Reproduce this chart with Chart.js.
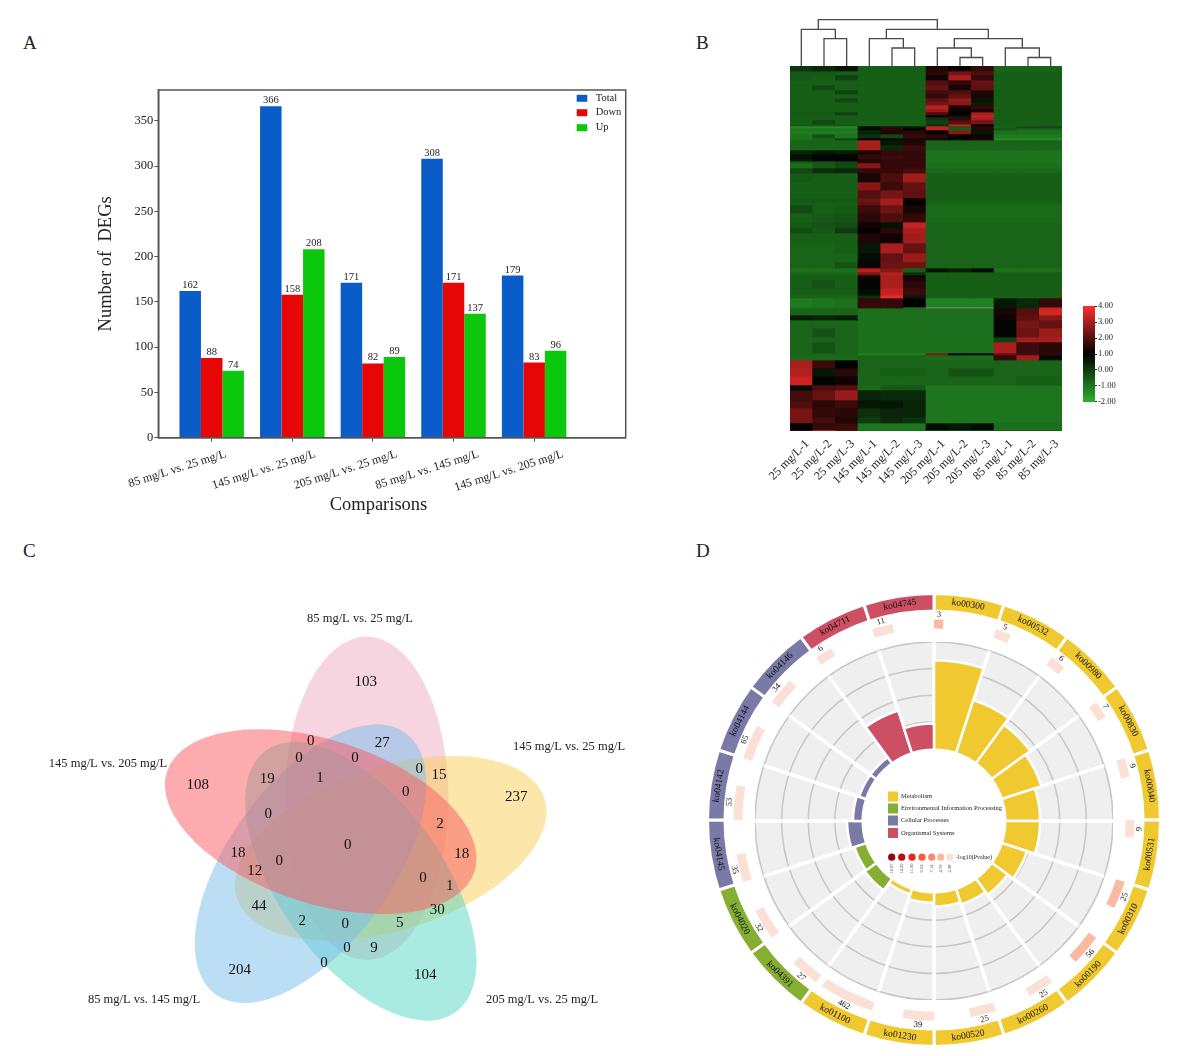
<!DOCTYPE html>
<html>
<head>
<meta charset="utf-8">
<style>
body { margin: 0; background: #fff; width: 1181px; height: 1056px; position: relative; overflow: hidden; font-family: "Liberation Serif", serif; }
canvas { position: absolute; }
.letter { position: absolute; font-size: 19px; color: #222; line-height: 1; }
</style>
</head>
<body>
<div class="letter" style="left:23px;top:33px">A</div>
<div class="letter" style="left:696px;top:33px">B</div>
<div class="letter" style="left:23px;top:541px">C</div>
<div class="letter" style="left:696px;top:541px">D</div>
<script src="https://cdn.jsdelivr.net/npm/chart.js@4"></script>
<script>
// panel A
const comparisons = ['85 mg/L vs. 25 mg/L', '145 mg/L vs. 25 mg/L', '205 mg/L vs. 25 mg/L', '85 mg/L vs. 145 mg/L', '145 mg/L vs. 205 mg/L']
const totalDegs = [162, 366, 171, 308, 179]
const downDegs = [88, 158, 82, 171, 83]
const upDegs = [74, 208, 89, 137, 96]
const barNames = ['Total', 'Down', 'Up']
const barColors = ['#0a5cc8', '#e60606', '#0cc80c']
const labelShift = [14, 23, 24, 25, 29]

// panel B
const samples = ['25 mg/L-1', '25 mg/L-2', '25 mg/L-3', '145 mg/L-1', '145 mg/L-2', '145 mg/L-3', '205 mg/L-1', '205 mg/L-2', '205 mg/L-3', '85 mg/L-1', '85 mg/L-2', '85 mg/L-3']
const heatSpans = [5,4,5,5,5,4,4,4,3,4,3,3,2,3,4,2,2,2,4,4,2,5,5,4,5,2,2,5,5,9,8,8,4,3,8,9,6,5,10,10,9,6,4,3,5,8,7,3,9,1,7,5,8,9,5,11,2,5,8,8,9,5,10,8,9,6,7,1]
const heatRows = [
 [0.1,0.3,0.6,-.6,-.6,-.6,1.4,1.1,1.6,-.7,-.7,-.7],
 [-.5,-.5,-.6,-.6,-.6,-.6,1.5,2.4,1.9,-.6,-.6,-.6],
 [-.5,-.6,-.1,-.6,-.6,-.6,1.2,3.0,1.6,-.6,-.6,-.6],
 [-.6,-.6,-.6,-.6,-.6,-.6,2.0,1.6,2.2,-.6,-.6,-.6],
 [-.6,-.3,-.6,-.6,-.6,-.6,2.2,1.3,2.1,-.6,-.6,-.6],
 [-.6,-.6,-.1,-.6,-.6,-.6,1.8,1.9,1.4,-.6,-.6,-.6],
 [-.6,-.6,-.6,-.6,-.6,-.6,1.6,2.2,1.3,-.6,-.6,-.6],
 [-.6,-.6,-.2,-.6,-.6,-.6,2.1,2.7,0.6,-.6,-.6,-.6],
 [-.6,-.6,-.6,-.6,-.6,-.6,2.4,2.6,0.5,-.6,-.6,-.6],
 [-.6,-.6,-.6,-.6,-.6,-.6,3.2,1.3,1.6,-.6,-.6,-.6],
 [-.6,-.6,-.6,-.6,-.6,-.6,2.8,1.2,1.3,-.6,-.6,-.6],
 [-.5,-.5,-.1,-.6,-.6,-.6,1.8,1.0,3.0,-.6,-.6,-.6],
 [-.6,-.6,-.6,-.6,-.6,-.6,1.2,0.6,3.3,-.6,-.6,-.6],
 [-.6,-.6,-.6,-.6,-.6,-.6,0.1,1.6,3.0,-.6,-.6,-.6],
 [-.6,-.2,-.6,-.6,-.6,-.6,-.1,2.0,2.4,-.6,-.6,-.6],
 [-.5,-.5,-.5,-.6,-.6,-.6,0.2,3.2,1.0,-.6,-.6,-.6],
 [-1.4,-1.4,-1.4,.9,1.5,.6,3.3,-.5,1.5,-.7,-.3,-.2],
 [-1,-1,-1,.8,1.5,1.0,3.3,-.6,1.4,-.4,-.7,-.7],
 [-1.1,-1.1,-1.1,.4,1.4,1.5,1.0,2.6,.6,-.9,-.9,-.9],
 [-1,-.4,-1,.2,-.2,1.6,1.5,1.0,1.2,-1.1,-1.1,-1.1],
 [-.9,-.7,-.2,1,.9,1.3,1.3,.9,1.3,-1.4,-1.4,-1.4],
 [-.7,-.7,-.7,3.0,.6,1.4,-.7,-.7,-.7,-.7,-.7,-.7],
 [-.7,-.7,-.7,3.0,.3,1.7,-.7,-.7,-.7,-.7,-.7,-.7],
 [.4,.6,.5,1.3,1.6,1.6,-.95,-.95,-.95,-.95,-.95,-.95],
 [.7,.9,.9,1.6,1.7,1.6,-1,-1,-1,-1,-1,-1],
 [.5,1,1,1.4,1.6,1.6,-1,-1,-1,-1,-1,-1],
 [-.5,-.5,-.2,1.5,1.6,1.7,-1,-1,-1,-1,-1,-1],
 [-.9,-.5,-.2,2.6,1.6,1.6,-.9,-.9,-.9,-.9,-.9,-.9],
 [-.2,.2,.3,1.6,1.6,1.8,-.75,-.75,-.75,-.75,-.75,-.75],
 [-.5,-.6,-.6,1.3,1.9,2.9,-.6,-.6,-.6,-.6,-.6,-.6],
 [-.6,-.6,-.6,2.6,1.7,2.2,-.6,-.6,-.6,-.6,-.6,-.6],
 [-.6,-.6,-.6,2.0,2.4,2.1,-.6,-.6,-.6,-.6,-.6,-.6],
 [-.5,-.5,-.5,2.3,2.9,1.1,-.6,-.6,-.6,-.6,-.6,-.6],
 [-.6,-.6,-.6,2.1,2.9,1.0,-.7,-.7,-.7,-.7,-.7,-.7],
 [-.3,-.6,-.5,1.7,2.3,1.3,-.8,-.8,-.8,-.8,-.8,-.8],
 [-.6,-.5,-.4,1.5,1.9,1.6,-.8,-.8,-.8,-.8,-.8,-.8],
 [-.5,-.4,-.3,1.2,0.7,3.3,-.7,-.7,-.7,-.7,-.7,-.7],
 [-.3,-.5,0,1.0,1.5,3.0,-.7,-.7,-.7,-.7,-.7,-.7],
 [-.6,-.6,-.6,1.4,1.2,2.9,-.7,-.7,-.7,-.7,-.7,-.7],
 [-.7,-.7,-.6,.6,3.0,2.2,-.7,-.7,-.7,-.7,-.7,-.7],
 [-.7,-.7,-.7,.8,2.2,2.8,-.7,-.7,-.7,-.7,-.7,-.7],
 [-.7,-.7,-.4,1.2,2.3,2.3,-.7,-.7,-.7,-.7,-.7,-.7],
 [-.9,-.9,-.9,3.2,2.6,-.6,.7,.4,.8,-.9,-.9,-.9],
 [-.7,-.7,-.7,2.4,3.1,.2,-.6,-.6,-.6,-.6,-.6,-.6],
 [-.6,-.6,-.6,1.2,3.0,1.3,-.6,-.6,-.6,-.6,-.6,-.6],
 [-.6,-.4,-.6,.9,3.0,1.5,-.6,-.6,-.6,-.6,-.6,-.6],
 [-.6,-.6,-.6,.8,3.3,1.7,-.6,-.6,-.6,-.6,-.6,-.6],
 [-.7,-.7,-.7,.2,3.7,.6,-.6,-.6,-.6,-.6,-.6,-.6],
 [-1.1,-1.0,-.9,1.6,1.6,1.0,-1.2,-1.2,-1.2,.6,.3,1.6],
 [-1.0,-1.0,-.9,1.6,1.6,-.9,null,null,null,.6,.3,3.0],
 [-.7,-.7,-.7,-.9,-.9,-.9,-.9,-.9,-.9,1.3,2.0,3.5],
 [.5,.4,.5,-.9,-.9,-.9,-.9,-.9,-.9,1.2,2.1,2.6],
 [-.7,-.7,-.7,-.9,-.9,-.9,-.9,-.9,-.9,.9,2.4,2.2],
 [-.7,-.4,-.7,-.9,-.9,-.9,-.9,-.9,-.9,.9,2.3,2.8],
 [-.7,-.7,-.7,-.9,-.9,-.9,-.9,-.9,-.9,-.1,2.9,3.0],
 [-.7,-.4,-.7,-.9,-.9,-.9,-.9,-.9,-.9,3.0,1.7,1.5],
 [-.7,-.7,-.7,-1.2,-1.2,-1.2,2.5,.9,.8,2.2,1.8,1.6],
 [-.8,-.8,-.8,-.7,-.7,-.7,-.8,-.8,-.8,1.6,2.9,.8],
 [3.0,1.7,1.0,-.7,-.7,-.7,-.7,-.7,-.7,-.7,-.7,-.7],
 [3.1,.6,1.5,-.7,-.6,-.6,-.7,-.4,-.4,-.7,-.7,-.7],
 [3.4,.9,1.2,-.7,-.7,-.7,-.7,-.7,-.7,-.7,-.6,-.6],
 [.8,1.9,2.0,-.8,-.5,-.5,-1,-1,-1,-1,-1,-1],
 [1.8,2.2,2.8,.4,.3,.3,-1,-1,-1,-1,-1,-1],
 [1.9,1.5,1.7,.6,.6,.4,-1,-1,-1,-1,-1,-1],
 [2.4,1.6,1.5,.2,.4,.4,-1,-1,-1,-1,-1,-1],
 [2.4,1.8,1.4,0,.3,.1,-1,-1,-1,-1,-1,-1],
 [1.0,1.6,1.7,-1,-1,-1,.8,.6,.8,-.9,-.9,-.9],
 [1.9,3.8,2.0,-.8,-.8,-.8,-.5,-.5,-.5,-.5,-.5,-.5]
]
const mergeLeft = [1, 0, 4, 3, 7, 6, 10, 9, 6.75, 3.75, 0.75]
const mergeRight = [2, 1.5, 5, 4.5, 8, 7.5, 11, 10.5, 9.75, 8.25, 6]
const mergeLeftBase = [0, 0, 0, 0, 0, 0, 0, 0, 19, 28.4, 37.7]
const mergeRightBase = [0, 28.4, 0, 19, 0, 9.5, 0, 9.5, 19, 28.4, 37.7]
const mergeTop = [28.4, 37.7, 19, 28.4, 9.5, 19, 9.5, 19, 28.4, 37.7, 47.4]

// panel C
const vennSets = ['85 mg/L vs. 25 mg/L', '145 mg/L vs. 25 mg/L', '205 mg/L vs. 25 mg/L', '85 mg/L vs. 145 mg/L', '145 mg/L vs. 205 mg/L']
const setLabelX = [360, 569, 542, 144, 108]
const setLabelY = [619, 747, 1000, 1000, 764]
const ellipseX = [366.7, 390.7, 360.8, 310.5, 320.7]
const ellipseY = [798.3, 848.3, 881.3, 863.7, 821.7]
const ellipseAngle = [90, -18, 54, -54, 18]
const ellipseColor = ['rgba(232,150,180,.4)', 'rgba(250,205,85,.5)', 'rgba(85,215,195,.5)', 'rgba(120,190,235,.5)', 'rgba(250,90,95,.5)']
const vennValue = [103, 27, 0, 0, 0, 0, 15, 19, 1, 0, 237, 108, 0, 2, 0, 18, 18, 0, 12, 0, 1, 30, 44, 2, 0, 5, 0, 9, 0, 204, 104]
const vennX = [365.7, 382.3, 310.7, 299, 355, 419.3, 439, 267.3, 320, 405.7, 516.3, 197.7, 268.3, 440, 347.7, 238, 461.7, 279.3, 254.7, 423, 449.7, 437.3, 259, 302.3, 345.3, 399.7, 347, 374, 324, 239.7, 425.3]
const vennY = [682.3, 743.3, 740.7, 757.7, 757.7, 769, 775, 779, 777.7, 792.3, 796.7, 785.3, 813.7, 823.7, 845, 853.3, 854.3, 860.7, 870.7, 878, 886, 910, 906, 920.7, 924, 922.7, 948, 947.7, 962.7, 969.7, 975]

// panel D
const pathways = ['ko00300', 'ko00532', 'ko00980', 'ko00830', 'ko00040', 'ko00531', 'ko00310', 'ko00190', 'ko00260', 'ko00520', 'ko01230', 'ko01100', 'ko04391', 'ko04020', 'ko04145', 'ko04142', 'ko04144', 'ko04146', 'ko04711', 'ko04745']
const pathwayGroup = [0, 0, 0, 0, 0, 0, 0, 0, 0, 0, 0, 0, 1, 1, 2, 2, 2, 2, 3, 3]
const groupNames = ['Metabolism', 'Environmental Information Processing', 'Cellular Processes', 'Organismal Systems']
const groupColors = ['#efc92f', '#85ae32', '#7a79a8', '#cc4f64']
const pathwayBar = [3.31, 2.05, 1.75, 1.52, 1.26, 1.26, .95, .7, .57, .49, .35, .17, .49, .42, .54, .32, .23, .23, 1.64, .94]
const geneCount = [3, 5, 6, 7, 9, 9, 25, 56, 25, 25, 39, 462, 27, 32, 35, 53, 65, 34, 6, 11]
const countSpan = [2.7, 4.5, 4.5, 5, 5.5, 5, 8, 9, 7.5, 7.5, 9, 16, 8.5, 9, 8, 10, 10, 8, 5, 6]
const countLevel = [5, 6, 6, 6, 6, 6, 5, 5, 6, 6, 6, 6, 6, 6, 6, 6, 6, 6, 6, 6]
const pvalueColors = ['#8b0a10', '#b81218', '#e8251e', '#fb5a3c', '#fc8a6c', '#fbb9a2', '#fbe0d5']
const pvalueTicks = ['16.67', '14.29', '11.90', '9.52', '7.14', '4.76', '2.38']

Chart.defaults.font.family = '"Liberation Serif"'
Chart.defaults.color = '#222'
Chart.defaults.animation = false
Chart.defaults.responsive = false
Chart.defaults.plugins.legend.display = false
Chart.defaults.plugins.tooltip.enabled = false

function makeCanvas(left, top, width, height) {
    const c = document.createElement('canvas')
    c.width = width
    c.height = height
    c.style.left = left + 'px'
    c.style.top = top + 'px'
    c.style.width = width + 'px'
    c.style.height = height + 'px'
    document.body.append(c)
    return c
}

function heatColor(v) {
    if (v === null) return '#8a8a8a'
    if (v <= 1) {
        const t = (1 - v) / 3
        return `rgb(${44 * t},${176 * t},${44 * t})`
    }
    const t = Math.min((v - 1) / 3, 1)
    return `rgb(${255 * t},${45 * t},${45 * t})`
}

// --- A ---
const barFrame = {
    id: 'barFrame',
    afterDatasetsDraw(chart) {
        const { ctx } = chart
        ctx.save()
        ctx.fillStyle = '#222'
        ctx.textAlign = 'center'
        ctx.textBaseline = 'bottom'
        ctx.font = '10.5px "Liberation Serif"'
        chart.data.datasets.forEach((ds, i) => {
            chart.getDatasetMeta(i).data.forEach((bar, j) => {
                ctx.fillText(ds.data[j].y, bar.x, bar.y - 0.5)
            })
        })
        ctx.restore()
    },
    afterDraw(chart) {
        const { ctx, chartArea: a, scales } = chart
        ctx.save()
        ctx.strokeStyle = '#555'
        ctx.lineWidth = 1.5
        ctx.strokeRect(a.left, a.top, a.right - a.left, a.bottom - a.top)
        ctx.fillStyle = '#222'
        ctx.font = '12px "Liberation Serif"'
        ctx.textAlign = 'right'
        ctx.textBaseline = 'middle'
        scales.x.ticks.forEach((t, i) => {
            ctx.save()
            ctx.translate(scales.x.getPixelForValue(t.value) + labelShift[i], a.bottom + 16)
            ctx.rotate(-17.5 * Math.PI / 180)
            ctx.fillText(comparisons[i], 0, 0)
            ctx.restore()
        })
        ctx.font = '18.5px "Liberation Serif"'
        ctx.textAlign = 'center'
        ctx.fillText('Comparisons', 378.5 - 90, 505 - 80)
        ctx.font = '10.5px "Liberation Serif"'
        ctx.textAlign = 'left'
        barNames.forEach((n, i) => {
            const y = [18.3, 32.7, 47.7][i]
            ctx.fillStyle = barColors[i]
            ctx.fillRect(486.7, y - 3.5, 10.6, 7)
            ctx.fillStyle = '#222'
            ctx.fillText(n, 505.7, y)
        })
        ctx.restore()
    }
}

new Chart(makeCanvas(90, 80, 560, 440), {
    type: 'bar',
    data: {
        datasets: [totalDegs, downDegs, upDegs].map((vals, i) => ({
            label: barNames[i],
            data: vals.map((v, j) => ({ x: j, y: v })),
            backgroundColor: barColors[i],
            categoryPercentage: 0.8,
            barPercentage: 1
        }))
    },
    options: {
        layout: { padding: { top: 10, right: 24.3, left: 0, bottom: 0 } },
        scales: {
            x: {
                type: 'linear', min: -0.6625, max: 5.136, offset: false,
                grid: { offset: false, drawOnChartArea: false, color: '#555', tickLength: 4 },
                border: { color: '#555', width: 1.5 },
                ticks: { display: false },
                afterBuildTicks(s) { s.ticks = comparisons.map((c, i) => ({ value: i })) },
                afterFit(s) { s.height = 82.3 }
            },
            y: {
                min: 0, max: 384,
                grid: { drawOnChartArea: false, color: '#555', tickLength: 4 },
                border: { color: '#555', width: 1.5 },
                ticks: { stepSize: 50, padding: 1, font: { size: 12.5 }, color: '#222' },
                afterBuildTicks(s) { s.ticks = s.ticks.filter(t => t.value % 50 === 0) },
                title: { display: true, text: 'Number of  DEGs', font: { size: 18.5 }, color: '#222', padding: { top: 5, bottom: 0 } },
                afterFit(s) { s.width = 68.3 }
            }
        }
    },
    plugins: [barFrame]
})

// --- B ---
const dendroPoints = []
mergeTop.forEach((top, i) => {
    dendroPoints.push({ x: mergeLeft[i], y: mergeLeftBase[i] }, { x: mergeLeft[i], y: top }, { x: mergeRight[i], y: top }, { x: mergeRight[i], y: mergeRightBase[i] }, { x: mergeRight[i], y: null })
})
new Chart(makeCanvas(790, 14, 272, 53), {
    type: 'scatter',
    data: { datasets: [{ data: dendroPoints, showLine: true, spanGaps: false, pointRadius: 0, borderColor: '#4a4a4a', borderWidth: 1.3, clip: false }] },
    options: { scales: { x: { display: false, min: -0.5, max: 11.5 }, y: { display: false, min: 0, max: 53 } } }
})

const heatTotal = heatSpans.reduce((a, b) => a + b, 0)
new Chart(makeCanvas(760, 66, 320, 440), {
    type: 'bar',
    data: {
        labels: samples,
        datasets: heatRows.map((row, r) => ({
            data: samples.map(() => heatSpans[r]),
            backgroundColor: row.map(heatColor),
            categoryPercentage: 1,
            barPercentage: 1,
            borderWidth: 0,
            stack: 'rows'
        }))
    },
    options: {
        layout: { padding: { left: 30, right: 18, top: 0, bottom: 0 } },
        scales: {
            x: {
                stacked: true,
                grid: { display: false },
                border: { display: false },
                ticks: { minRotation: 45, maxRotation: 45, labelOffset: 6, padding: -2, autoSkip: false, font: { size: 12 }, color: '#222' },
                afterFit(s) { s.height = 75 }
            },
            y: { stacked: true, display: false, reverse: true, min: 0, max: heatTotal }
        }
    }
})

new Chart(makeCanvas(1083, 300, 40, 108), {
    type: 'bar',
    data: {
        labels: ['scale'],
        datasets: [{
            data: [[-2, 4]],
            categoryPercentage: 1,
            barPercentage: 1,
            borderSkipped: false,
            backgroundColor(c) {
                const a = c.chart.chartArea
                if (!a) return '#000'
                const g = c.chart.ctx.createLinearGradient(0, a.bottom, 0, a.top)
                g.addColorStop(0, heatColor(-2))
                g.addColorStop(0.5, heatColor(1))
                g.addColorStop(1, heatColor(4))
                return g
            }
        }]
    },
    options: {
        layout: { padding: { top: 5.7, bottom: 5.3 } },
        scales: {
            x: { display: false },
            y: {
                position: 'right', min: -2, max: 4,
                grid: { drawOnChartArea: false, color: '#222', tickLength: 2 },
                border: { display: false },
                ticks: { stepSize: 1, padding: 1, font: { size: 8.5 }, color: '#222', callback: v => v.toFixed(2) },
                afterFit(s) { s.width = 28 }
            }
        }
    }
})

// --- C ---
const vennDraw = {
    id: 'vennDraw',
    beforeDatasetsDraw(chart) {
        const { ctx, scales: { x, y } } = chart
        ctx.save()
        ellipseX.forEach((ex, i) => {
            ctx.beginPath()
            ctx.ellipse(x.getPixelForValue(ex), y.getPixelForValue(ellipseY[i]), 161.7, 81.7, ellipseAngle[i] * Math.PI / 180, 0, Math.PI * 2)
            ctx.fillStyle = ellipseColor[i]
            ctx.fill()
        })
        ctx.restore()
    },
    afterDatasetsDraw(chart) {
        const { ctx, scales: { x, y } } = chart
        ctx.save()
        ctx.fillStyle = '#111'
        ctx.textAlign = 'center'
        ctx.textBaseline = 'middle'
        ctx.font = '15px "Liberation Serif"'
        vennValue.forEach((v, i) => ctx.fillText(v, x.getPixelForValue(vennX[i]), y.getPixelForValue(vennY[i])))
        ctx.font = '12.5px "Liberation Serif"'
        ctx.fillStyle = '#222'
        vennSets.forEach((s, i) => ctx.fillText(s, x.getPixelForValue(setLabelX[i]), y.getPixelForValue(setLabelY[i])))
        ctx.restore()
    }
}
new Chart(makeCanvas(0, 590, 650, 460), {
    type: 'scatter',
    data: { datasets: [{ data: vennValue.map((v, i) => ({ x: vennX[i], y: vennY[i] })), pointRadius: 0 }] },
    options: {
        scales: {
            x: { display: false, min: 0, max: 650 },
            y: { display: false, reverse: true, min: 590, max: 1050 }
        }
    },
    plugins: [vennDraw]
})

// --- D ---
const ringText = {
    id: 'ringText',
    afterDatasetsDraw(chart) {
        const { ctx } = chart
        const label = (arc, r, text) => {
            const mid = (arc.startAngle + arc.endAngle) / 2
            const deg = (mid + Math.PI / 2) * 180 / Math.PI
            const flip = deg > 90 && deg < 270
            ctx.save()
            ctx.translate(arc.x + r * Math.cos(mid), arc.y + r * Math.sin(mid))
            ctx.rotate((flip ? deg - 180 : deg) * Math.PI / 180)
            ctx.fillText(text, 0, 0)
            ctx.restore()
        }
        ctx.save()
        ctx.fillStyle = '#111'
        ctx.textAlign = 'center'
        ctx.textBaseline = 'middle'
        ctx.font = '9.5px "Liberation Serif"'
        chart.getDatasetMeta(0).data.forEach((arc, i) => label(arc, 218, pathways[i]))
        ctx.font = '8.5px "Liberation Serif"'
        pathways.forEach((p, i) => label(chart.getDatasetMeta(2).data[i * 2], 205.5, geneCount[i]))
        ctx.restore()
    }
}
new Chart(makeCanvas(706, 592, 456, 456), {
    type: 'doughnut',
    data: {
        datasets: [
            { data: pathways.map(() => 1), weight: 17.5, backgroundColor: pathwayGroup.map(g => groupColors[g]), borderColor: '#fff', borderWidth: 3 },
            { data: [1], weight: 8.5, backgroundColor: 'rgba(0,0,0,0)', borderWidth: 0 },
            { data: countSpan.flatMap(w => [w, 18 - w]), weight: 9, backgroundColor: countLevel.flatMap(l => [pvalueColors[l], 'rgba(0,0,0,0)']), borderWidth: 0 }
        ]
    },
    options: { cutout: 191.5 },
    plugins: [ringText]
})

const hubDraw = {
    id: 'hubDraw',
    afterDatasetsDraw(chart) {
        const { ctx, scales: { r } } = chart
        const cx = r.xCenter, cy = r.yCenter
        ctx.save()
        ctx.beginPath()
        ctx.arc(cx, cy, r.getDistanceFromCenterForValue(0), 0, Math.PI * 2)
        ctx.fillStyle = '#fff'
        ctx.fill()
        ctx.textBaseline = 'middle'
        ctx.font = '6.5px "Liberation Serif"'
        groupNames.forEach((n, i) => {
            const y = cy + [-24.5, -12.5, -0.5, 12][i]
            ctx.fillStyle = groupColors[i]
            ctx.fillRect(cx - 46, y - 5, 10, 10)
            ctx.fillStyle = '#222'
            ctx.fillText(n, cx - 33, y)
        })
        const dots = [-42.3, -32.3, -22, -12, -2.3, 6.7, 15.7]
        dots.forEach((dx, i) => {
            ctx.beginPath()
            ctx.arc(cx + dx, cy + 36.2, 3.6, 0, Math.PI * 2)
            ctx.fillStyle = pvalueColors[i]
            ctx.fill()
            ctx.save()
            ctx.translate(cx + dx, cy + 47.5)
            ctx.rotate(-Math.PI / 2)
            ctx.fillStyle = '#333'
            ctx.font = '4.5px "Liberation Serif"'
            ctx.textAlign = 'center'
            ctx.fillText(pvalueTicks[i], 0, 0)
            ctx.restore()
        })
        ctx.fillStyle = '#222'
        ctx.font = '6px "Liberation Serif"'
        ctx.fillText('-log10(Pvalue)', cx + 22, cy + 36.2)
        ctx.restore()
    }
}
new Chart(makeCanvas(755, 641.5, 358, 358), {
    type: 'polarArea',
    data: {
        labels: pathways,
        datasets: [{ data: pathwayBar, backgroundColor: pathwayGroup.map(g => groupColors[g]), borderColor: '#fff', borderWidth: 2.5 }]
    },
    options: {
        scales: {
            r: {
                min: -2.726, max: 4,
                backgroundColor: '#efefef',
                grid: { circular: true, color: '#c6c6c6', lineWidth: 1.5 },
                angleLines: { display: true, color: '#fff', lineWidth: 3.5 },
                pointLabels: { display: false },
                ticks: { display: false, stepSize: 1 }
            }
        }
    },
    plugins: [hubDraw]
})
</script>
</body>
</html>
